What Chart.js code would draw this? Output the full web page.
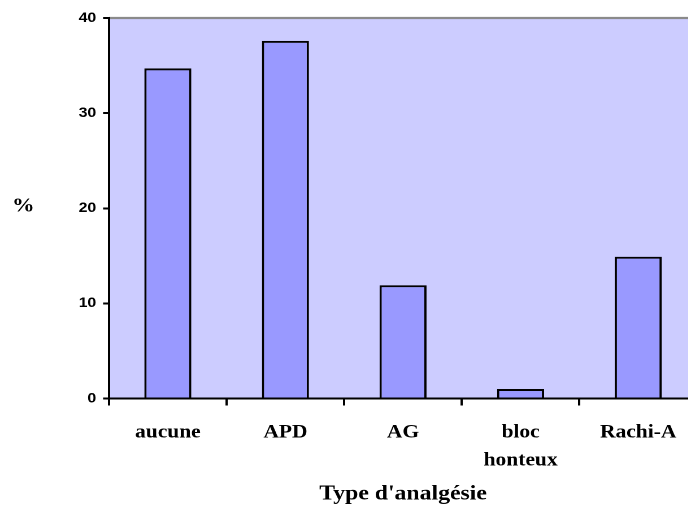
<!DOCTYPE html>
<html>
<head>
<meta charset="utf-8">
<script src="https://cdn.jsdelivr.net/npm/chart.js@4/dist/chart.umd.min.js"></script>
<style>
  html, body { margin: 0; padding: 0; overflow: hidden; background: #ffffff; }
  /* the chart is drawn slightly narrow and widened horizontally */
  #wrap { position: absolute; left: 0; top: 0; width: 618px; height: 509px;
          transform: scaleX(1.13); transform-origin: 0 0; }
</style>
</head>
<body>
<div id="wrap"><canvas id="c"></canvas></div>
<script>
const categories = ['aucune', 'APD', 'AG', ['bloc', 'honteux'], 'Rachi-A'];
const percentages = [34.7, 37.6, 11.9, 1.0, 14.9];
const yTickValues = [0, 10, 20, 30, 40];
const xTitle = "Type d'analgésie";
const yTitle = '%';

const SERIF = '"Liberation Serif", "Times New Roman", serif';
const SANS = '"Liberation Sans", Arial, sans-serif';

// plot background, grey top rule and the horizontal "%" label
const plotDecor = {
  id: 'plotDecor',
  beforeDraw(chart) {
    const { ctx, chartArea: a } = chart;
    ctx.save();
    ctx.fillStyle = '#ccccff';
    ctx.fillRect(a.left, a.top, a.right - a.left, a.bottom - a.top);
    ctx.strokeStyle = '#8a8a8a';
    ctx.lineWidth = 2.2;
    ctx.beginPath();
    ctx.moveTo(a.left, a.top);
    ctx.lineTo(a.right + 2, a.top);
    ctx.stroke();
    ctx.restore();
  },
  afterDraw(chart) {
    const { ctx } = chart;
    const y = chart.scales.y;
    ctx.save();
    ctx.fillStyle = '#000';
    ctx.font = 'bold 20px ' + SERIF;
    ctx.textAlign = 'center';
    ctx.textBaseline = 'middle';
    ctx.fillText(yTitle, 20.6, (y.top + y.bottom) / 2 - 2);
    ctx.restore();
  }
};

new Chart(document.getElementById('c'), {
  type: 'bar',
  data: {
    labels: categories,
    datasets: [{
      data: percentages,
      backgroundColor: '#9999ff',
      borderColor: '#000000',
      borderWidth: 2,
      barPercentage: 0.4,
      categoryPercentage: 1.0
    }]
  },
  options: {
    responsive: true,
    maintainAspectRatio: false,
    animation: false,
    devicePixelRatio: 2,
    layout: { padding: { top: 18, right: 1.2, left: 0, bottom: 0 } },
    plugins: { legend: { display: false }, tooltip: { enabled: false } },
    scales: {
      x: {
        afterFit(scale) { scale.height = 110.5; },
        grid: { display: true, drawOnChartArea: false, drawTicks: true, offset: true,
                tickLength: 7, color: '#000', lineWidth: 2 },
        border: { display: true, color: '#000', width: 2 },
        ticks: {
          color: '#000', padding: 13, maxRotation: 0, autoSkip: false,
          font: { family: SERIF, size: 19, weight: 'bold', lineHeight: 1.47 }
        },
        title: {
          display: true, text: xTitle, color: '#000',
          padding: { top: 0, bottom: 2.4 },
          font: { family: SERIF, size: 21, weight: 'bold', lineHeight: 1.2 }
        }
      },
      y: {
        min: yTickValues[0],
        max: yTickValues[yTickValues.length - 1],
        afterFit(scale) { scale.width = 96.5; },
        afterBuildTicks(scale) { scale.ticks = yTickValues.map(v => ({ value: v })); },
        grid: { display: true, drawOnChartArea: false, drawTicks: true,
                tickLength: 5.3, color: '#000', lineWidth: 2 },
        border: { display: true, color: '#000', width: 2 },
        ticks: {
          color: '#000', padding: 6,
          font: { family: SANS, size: 14, weight: 'bold' }
        }
      }
    }
  },
  plugins: [plotDecor]
});
</script>
</body>
</html>
